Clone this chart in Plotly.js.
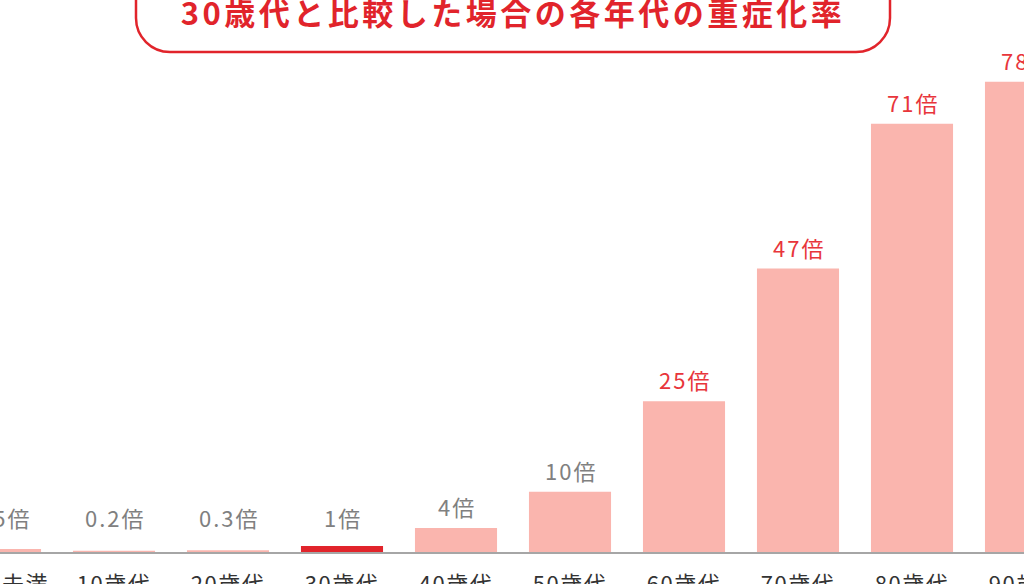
<!DOCTYPE html>
<html>
<head>
<meta charset="utf-8">
<script src="https://cdn.plot.ly/plotly-3.0.1.min.js"></script>
<style>
  html, body { margin: 0; padding: 0; background: #fff; overflow: hidden; width: 1024px; height: 584px; }
  #chart { width: 1100px; height: 584px; }
  .gtitle { letter-spacing: 3.5px; }
  .annotation-text { letter-spacing: 2px; }
  .xtick text { letter-spacing: 1.5px; }
</style>
</head>
<body>
<div id="chart"></div>
<script>
// ---- data ----
const categories = ['10歳未満', '10歳代', '20歳代', '30歳代', '40歳代', '50歳代', '60歳代', '70歳代', '80歳代', '90歳代'];
const values = [0.5, 0.2, 0.3, 1, 4, 10, 25, 47, 71, 78];
const valueLabels = ['0.5倍', '0.2倍', '0.3倍', '1倍', '4倍', '10倍', '25倍', '47倍', '71倍', '78倍'];
const highlightCategory = '30歳代';
const titleText = '30歳代と比較した場合の各年代の重症化率';

// ---- styles ----
const FONT = '"Noto Sans CJK JP", "Noto Sans", sans-serif';
const PALE = '#fab5ae';
const RED = '#e1242b';
const LABEL_RED = '#e8353b';
const LABEL_GRAY = '#808080';
const MIN_LABEL_ANCHOR = 2.2; // labels of very small bars sit at this minimum height

const VIEW_W = 1024, W = 1100, H = 584, MB = 32;
const plotH = H - MB;
const PX_PER_CAT = 114;

const barColors = categories.map(c => c === highlightCategory ? RED : PALE);
const labelColors = values.map(v => v >= 20 ? LABEL_RED : LABEL_GRAY);

const trace = {
  type: 'bar',
  x: categories,
  y: values,
  marker: { color: barColors, line: { width: 0 } },
  hoverinfo: 'skip'
};

const annotations = categories.map((c, i) => ({
  x: c, y: Math.max(values[i], MIN_LABEL_ANCHOR), xref: 'x', yref: 'y',
  text: valueLabels[i],
  showarrow: false,
  xanchor: 'center', yanchor: 'bottom',
  xshift: 1,
  yshift: 4,
  font: { family: FONT, size: 22, color: labelColors[i] }
}));

// rounded title frame (paper coords computed from pixel geometry)
function px(x) { return x / W; }
function py(y) { return (plotH - y) / plotH; }
const bx0 = 136, bx1 = 890, byTop = -40, byBot = 52, r = 34, k = 0.5523 * r;
const framePath =
  'M' + px(bx0) + ',' + py(byTop) +
  ' L' + px(bx0) + ',' + py(byBot - r) +
  ' C' + px(bx0) + ',' + py(byBot - r + k) + ' ' + px(bx0 + r - k) + ',' + py(byBot) + ' ' + px(bx0 + r) + ',' + py(byBot) +
  ' L' + px(bx1 - r) + ',' + py(byBot) +
  ' C' + px(bx1 - r + k) + ',' + py(byBot) + ' ' + px(bx1) + ',' + py(byBot - r + k) + ' ' + px(bx1) + ',' + py(byBot - r) +
  ' L' + px(bx1) + ',' + py(byTop);

const layout = {
  width: W, height: H,
  margin: { l: 0, r: 0, t: 0, b: MB },
  paper_bgcolor: '#ffffff',
  plot_bgcolor: '#ffffff',
  showlegend: false,
  bargap: 0.28,
  title: {
    text: titleText,
    x: (VIEW_W / 2 + 1) / W, xanchor: 'center', xref: 'paper',
    y: 1 - 14 / H, yref: 'container', yanchor: 'middle',
    font: { family: FONT, size: 31, color: RED, weight: 'bold' }
  },
  xaxis: {
    type: 'category',
    range: [0, W / PX_PER_CAT],
    showgrid: false, zeroline: false,
    showline: true, linecolor: '#a6a6a6', linewidth: 2,
    ticks: '',
    ticklabelstandoff: 12,
    tickfont: { family: FONT, size: 22, color: '#333333' },
    fixedrange: true
  },
  yaxis: {
    range: [0, plotH / 6.03],
    visible: false,
    fixedrange: true
  },
  shapes: [{
    type: 'path', xref: 'paper', yref: 'paper',
    path: framePath,
    line: { color: RED, width: 2.5 },
    fillcolor: 'rgba(0,0,0,0)'
  }],
  annotations: annotations
};

Plotly.newPlot('chart', [trace], layout, { displayModeBar: false, staticPlot: true });
</script>
</body>
</html>
